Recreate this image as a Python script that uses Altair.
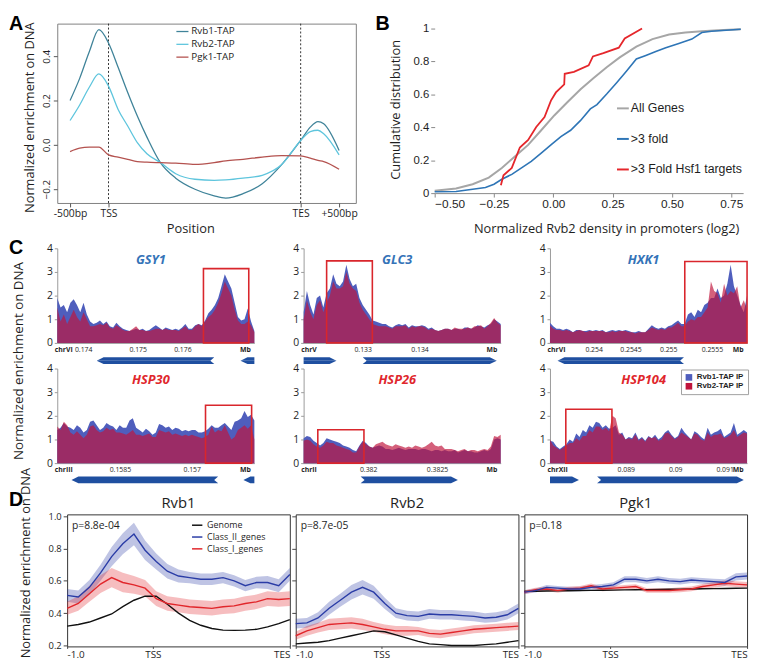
import altair as alt
import pandas as pd

FONT = "Open Sans"
ARIAL = "Liberation Sans"
TXT = "#1e1e1e"

# ================= Panel A : metagene profiles =================
A_POS = [0, 0.25, 0.5, 0.75, 1.0, 1.25, 1.5, 1.75, 2.0, 2.35, 2.75, 3.25, 3.75, 4.05, 4.5, 5.0, 5.5, 6.0, 6.25, 6.45, 6.6, 7.0]
A_RVB1 = [0.20, 0.30, 0.42, 0.52, 0.46, 0.35, 0.236, 0.13, 0.035, -0.08, -0.15, -0.20, -0.23, -0.24, -0.22, -0.175, -0.09, 0.02, 0.08, 0.105, 0.095, -0.025]
A_RVB2 = [0.11, 0.18, 0.26, 0.32, 0.265, 0.16, 0.085, 0.01, -0.04, -0.08, -0.13, -0.155, -0.16, -0.158, -0.15, -0.137, -0.09, 0.02, 0.06, 0.066, 0.05, -0.045]
A_PGK1 = [-0.03, -0.015, -0.01, -0.01, -0.045, -0.055, -0.065, -0.075, -0.078, -0.08, -0.082, -0.088, -0.08, -0.072, -0.065, -0.055, -0.048, -0.05, -0.06, -0.07, -0.075, -0.11]
A_SERIES = ["Rvb1-TAP", "Rvb2-TAP", "Pgk1-TAP"]
A_COLORS = ["#3f8399", "#5ec5dd", "#b4524f"]
A_TICKS = [0, 1, 6, 7]
A_TICK_LABELS = ["-500bp", "TSS", "TES", "+500bp"]
A_YTICKS = [-0.2, 0.0, 0.2, 0.4]

# ================= Panel B : cumulative distributions =================
B_SERIES = ["All Genes", ">3 fold", ">3 Fold Hsf1 targets"]
B_COLORS = ["#a6a6a6", "#2e75b6", "#e5262b"]
B_ALL_X = [-0.5, -0.41, -0.34, -0.272, -0.217, -0.162, -0.106, -0.051, 0.004, 0.059, 0.115, 0.17, 0.225, 0.28, 0.35, 0.418, 0.488, 0.557, 0.626, 0.695, 0.79]
B_ALL_Y = [0.014, 0.028, 0.054, 0.094, 0.153, 0.223, 0.293, 0.382, 0.472, 0.552, 0.631, 0.70, 0.765, 0.825, 0.89, 0.936, 0.964, 0.976, 0.984, 0.99, 0.996]
B_FOLD_X = [-0.5, -0.41, -0.34, -0.286, -0.25, -0.217, -0.175, -0.134, -0.093, -0.051, -0.01, 0.032, 0.073, 0.115, 0.156, 0.184, 0.225, 0.267, 0.308, 0.35, 0.39, 0.432, 0.474, 0.529, 0.584, 0.626, 0.667, 0.79]
B_FOLD_Y = [0.008, 0.01, 0.024, 0.034, 0.054, 0.084, 0.114, 0.153, 0.193, 0.243, 0.293, 0.343, 0.382, 0.442, 0.512, 0.538, 0.602, 0.671, 0.741, 0.815, 0.837, 0.86, 0.884, 0.91, 0.936, 0.976, 0.984, 0.996]
B_HSF_X = [-0.221, -0.21, -0.175, -0.141, -0.106, -0.072, -0.037, -0.01, 0.011, 0.046, 0.048, 0.087, 0.149, 0.167, 0.211, 0.276, 0.301, 0.374]
B_HSF_Y = [0.048, 0.108, 0.153, 0.277, 0.323, 0.402, 0.462, 0.562, 0.612, 0.661, 0.725, 0.737, 0.777, 0.831, 0.851, 0.884, 0.94, 1.0]
B_XTICKS = [-0.5, -0.25, 0.0, 0.25, 0.5, 0.75]
B_YTICKS = [0, 0.2, 0.4, 0.6, 0.8, 1.0]

# ================= Panel C : genome browser tracks =================
C_SERIES = ["Rvb1-TAP IP", "Rvb2-TAP IP"]
C_COLORS = ["#4f5ebd", "#c0143c"]
C_GENES = ["GSY1", "GLC3", "HXK1", "HSP30", "HSP26", "HSP104"]
C_GENE_COLORS = ["#3473b8", "#3473b8", "#3473b8", "#e0262c", "#e0262c", "#e0262c"]
C_CHR = ["chrVI", "chrV", "chrVI", "chrIII", "chrII", "chrXII"]
C_RANGE = [(0.1732, 0.17761), (0.13196, 0.13543), (0.25345, 0.25595),
           (0.156064, 0.157436), (0.381531, 0.382962), (0.0874667, 0.0914533)]
C_TICKS = [[0.17378, 0.175, 0.176], [0.133, 0.134], [0.254004, 0.254471, 0.25495, 0.255504],
           [0.1565, 0.157], [0.382, 0.3825], [0.089, 0.09, 0.091]]
C_TICK_LABELS = [["0.174", "0.175", "0.176"], ["0.133", "0.134"], ["0.254", "0.2545", "0.255", "0.2555"],
                 ["0.1585", "0.157"], ["0.382", "0.3825"], ["0.089", "0.09", "0.091"]]
C_BOX = [(0.176471, 0.177485, 3.14), (0.132365, 0.13317, 3.47), (0.25516, 0.25595, 3.44),
         (0.157096, 0.157417, 2.45), (0.381634, 0.381969, 1.41), (0.087787, 0.08872, 2.28)]
# gene arrows: (left, right, direction, has tip, has notch)
C_ARROWS = [
    [(0.174082, 0.176713, "left", True, True), (0.177301, 0.17761, "left", True, False)],
    [(0.13196, 0.132538, "right", True, False), (0.133001, 0.13536, "right", True, True)],
    [(0.253546, 0.25515, "left", True, True)],
    [(0.156163, 0.157184, "left", True, True), (0.15736, 0.157436, "left", True, False)],
    [(0.381945, 0.382651, "right", True, True)],
    [(0.0874667, 0.088053, "right", True, False), (0.08842, 0.091387, "right", True, True)],
]
C_ARROW_MID = [-0.75, -0.75, -0.75, -0.71, -0.71, -0.71]

C_RVB1 = [
    [1.9, 1.5, 1.6, 1.3, 1.7, 1.85, 1.6, 1.3, 1.7, 1.2, 0.9, 0.8, 0.85, 0.95, 0.8, 0.9, 0.7, 0.65, 0.85, 0.7,
     0.6, 0.55, 0.5, 0.55, 0.6, 0.55, 0.6, 0.5, 0.55, 0.65, 0.75, 0.65, 0.55, 0.65, 0.6, 0.55, 0.6, 0.55, 0.65, 0.8,
     0.6, 0.6, 0.75, 0.8, 0.75, 0.95, 1.25, 1.4, 1.6, 1.9, 2.4, 2.9, 2.6, 2.3, 1.7, 1.1, 0.95, 1.0, 1.45, 0.9, 0.5],
    [1.3, 2.2, 1.6, 1.2, 1.9, 2.0, 1.5, 2.1, 2.3, 2.9, 2.5, 2.4, 2.6, 3.3, 2.7, 2.4, 2.5, 1.9, 1.6, 1.4,
     1.2, 0.95, 0.9, 0.85, 0.8, 0.8, 0.7, 0.65, 0.75, 0.8, 0.75, 0.8, 0.65, 0.75, 0.7, 0.7, 0.75, 0.7, 0.6, 0.65,
     0.55, 0.5, 0.55, 0.6, 0.6, 0.55, 0.6, 0.6, 0.55, 0.65, 0.65, 0.6, 0.65, 0.75, 0.7, 0.65, 0.75, 0.8, 1.0, 0.9, 0.8],
    [0.85, 0.7, 0.6, 0.6, 0.55, 0.6, 0.55, 0.45, 0.55, 0.55, 0.5, 0.5, 0.55, 0.5, 0.55, 0.5, 0.55, 0.45, 0.5, 0.55,
     0.5, 0.55, 0.5, 0.55, 0.5, 0.45, 0.45, 0.5, 0.45, 0.45, 0.6, 0.75, 0.65, 0.6, 0.65, 0.6, 0.7, 0.75, 0.85, 0.95,
     0.8, 0.8, 1.2, 1.3, 1.1, 1.4, 1.3, 1.6, 1.7, 1.9, 1.9, 2.3, 1.9, 2.0, 2.5, 3.3, 2.4, 2.0, 1.6, 1.3, 2.0],
    [1.4, 1.5, 1.7, 1.55, 1.5, 1.4, 1.6, 1.5, 1.3, 1.4, 1.75, 1.8, 1.6, 1.4, 1.5, 1.7, 1.6, 1.55, 1.4, 1.6,
     1.5, 1.5, 1.8, 1.9, 1.5, 1.4, 1.3, 1.45, 1.35, 1.2, 1.3, 1.65, 1.6, 1.5, 1.55, 1.4, 1.5, 1.45, 1.35, 1.4,
     1.35, 1.4, 1.4, 1.3, 1.3, 1.35, 1.45, 1.6, 1.5, 1.5, 1.6, 1.7, 1.55, 1.4, 1.75, 1.8, 1.9, 2.2, 1.95, 2.05, 1.8],
    [1.05, 1.15, 1.1, 0.95, 0.85, 0.75, 0.85, 1.05, 1.0, 0.95, 0.9, 0.85, 0.75, 0.7, 0.65, 0.55, 0.5, 0.75, 0.95, 0.85,
     0.7, 0.65, 0.7, 0.75, 0.7, 0.6, 0.6, 0.55, 0.6, 0.65, 0.6, 0.55, 0.6, 0.6, 0.6, 0.55, 0.6, 0.6, 0.55, 0.5,
     0.55, 0.55, 0.5, 0.55, 0.5, 0.5, 0.55, 0.45, 0.5, 0.55, 0.5, 0.5, 0.45, 0.45, 0.5, 0.55, 0.5, 0.6, 1.0, 1.05, 1.0],
    [0.95, 0.9, 0.7, 0.6, 0.7, 0.8, 1.0, 0.9, 1.25, 1.1, 1.4, 1.3, 1.6, 1.5, 1.75, 1.7, 1.5, 1.6, 1.45, 1.5,
     1.6, 1.2, 1.3, 1.0, 1.1, 1.05, 1.3, 1.0, 1.1, 0.95, 1.15, 1.05, 1.2, 1.0, 1.1, 1.3, 1.4, 1.2, 1.05, 1.15,
     1.5, 1.3, 1.15, 1.0, 1.35, 1.25, 1.1, 1.0, 1.5, 1.2, 1.3, 1.35, 1.45, 1.1, 1.2, 1.3, 1.7, 1.2, 1.3, 1.4, 1.3],
]
C_RVB2 = [
    [1.5, 0.9, 1.2, 0.8, 1.1, 1.4, 1.1, 0.9, 1.3, 1.0, 0.7, 0.7, 0.75, 0.8, 0.75, 0.85, 0.65, 0.6, 0.75, 0.65,
     0.55, 0.5, 0.5, 0.6, 0.7, 0.55, 0.55, 0.5, 0.5, 0.55, 0.6, 0.6, 0.55, 0.6, 0.55, 0.55, 0.55, 0.5, 0.6, 0.7,
     0.55, 0.55, 0.7, 0.8, 0.7, 0.9, 1.1, 1.2, 1.4, 1.7, 2.1, 2.6, 2.3, 2.0, 1.4, 0.95, 0.8, 0.8, 0.9, 0.75, 0.45],
    [1.0, 1.8, 1.3, 1.0, 1.6, 1.8, 1.3, 1.7, 2.0, 2.6, 2.3, 2.3, 2.4, 3.0, 2.5, 2.3, 2.2, 1.7, 1.4, 1.2,
     1.0, 0.8, 0.75, 0.7, 0.7, 0.7, 0.65, 0.6, 0.7, 0.7, 0.7, 0.75, 0.6, 0.7, 0.65, 0.7, 0.7, 0.65, 0.55, 0.6,
     0.55, 0.5, 0.55, 0.6, 0.6, 0.55, 0.65, 0.6, 0.6, 0.6, 0.65, 0.6, 0.7, 0.7, 0.75, 0.6, 0.7, 0.85, 1.05, 0.85, 0.75],
    [0.75, 0.6, 0.55, 0.55, 0.5, 0.55, 0.5, 0.45, 0.5, 0.55, 0.5, 0.45, 0.5, 0.5, 0.5, 0.5, 0.5, 0.45, 0.45, 0.5,
     0.45, 0.5, 0.5, 0.5, 0.45, 0.45, 0.4, 0.45, 0.45, 0.45, 0.55, 0.65, 0.6, 0.55, 0.6, 0.55, 0.65, 0.65, 0.75, 0.85,
     0.7, 0.7, 0.9, 1.0, 0.95, 1.1, 1.1, 1.3, 1.5, 2.6, 2.2, 2.1, 1.7, 2.5, 2.0, 2.2, 2.1, 2.4, 1.5, 1.8, 1.4],
    [1.55, 1.4, 1.75, 1.6, 1.3, 1.2, 1.35, 1.2, 1.05, 1.2, 1.55, 1.6, 1.4, 1.3, 1.35, 1.5, 1.4, 1.45, 1.3, 1.3,
     1.25, 1.2, 1.3, 1.4, 1.2, 1.2, 1.15, 1.2, 1.25, 1.1, 1.1, 1.4, 1.35, 1.3, 1.35, 1.2, 1.25, 1.2, 1.15, 1.2,
     1.15, 1.2, 1.15, 1.1, 1.05, 1.1, 1.2, 1.55, 1.3, 1.4, 1.35, 1.6, 1.3, 1.0, 1.1, 1.4, 1.5, 1.6, 1.45, 1.6, 1.0],
    [0.95, 1.0, 0.95, 0.8, 0.7, 0.65, 0.75, 0.9, 0.85, 0.85, 0.75, 0.7, 0.65, 0.6, 0.55, 0.45, 0.45, 0.7, 0.9, 0.8,
     0.7, 0.65, 0.8, 0.85, 0.9, 0.8, 0.75, 0.7, 0.8, 0.75, 0.7, 0.65, 0.7, 0.65, 0.75, 0.7, 0.65, 0.7, 0.8, 0.9,
     0.75, 0.7, 0.75, 0.6, 0.6, 0.6, 0.55, 0.5, 0.55, 0.6, 0.5, 0.55, 0.55, 0.5, 0.55, 0.6, 0.55, 0.7, 1.15, 1.1, 1.2],
    [1.0, 0.75, 0.65, 0.55, 0.65, 0.75, 0.85, 0.85, 1.05, 0.95, 1.15, 1.15, 1.4, 1.3, 1.55, 1.55, 1.4, 1.5, 1.35, 2.0,
     1.9, 1.3, 1.2, 1.0, 1.05, 1.0, 1.2, 0.95, 1.05, 0.9, 1.1, 1.05, 1.1, 0.95, 1.0, 1.25, 1.3, 1.15, 1.0, 1.1,
     1.3, 1.2, 1.1, 1.0, 1.25, 1.2, 1.0, 0.95, 1.3, 1.1, 1.2, 1.2, 1.25, 1.05, 1.1, 1.2, 1.4, 1.1, 1.2, 1.3, 1.25],
]

# ================= Panel D : metagene profiles with confidence bands =================
D_SERIES = ["Genome", "Class_II_genes", "Class_I_genes"]
D_COLORS = ["#111111", "#2a3ca6", "#e1262b"]
D_NAMES = ["Rvb1", "Rvb2", "Pgk1"]
D_PVALS = ["p=8.8e-04", "p=8.7e-05", "p=0.18"]
D_POS = [0, 0.05, 0.1, 0.15, 0.2, 0.25, 0.3, 0.35, 0.4, 0.45, 0.5, 0.55, 0.6, 0.65, 0.7, 0.75, 0.8, 0.85, 0.9, 0.95, 1.0]
D_TICKS = [0, 0.385, 1]
D_TICK_LABELS = ["-1.0", "TSS", "TES"]
D_YTICKS = [0.2, 0.4, 0.6, 0.8, 1.0]
D_BLUE = [
    [0.51, 0.50, 0.56, 0.65, 0.75, 0.83, 0.89, 0.79, 0.72, 0.66, 0.63, 0.62, 0.61, 0.61, 0.62, 0.60, 0.57, 0.59, 0.59, 0.57, 0.64],
    [0.335, 0.34, 0.37, 0.43, 0.48, 0.53, 0.56, 0.53, 0.46, 0.40, 0.385, 0.38, 0.395, 0.39, 0.39, 0.385, 0.38, 0.37, 0.375, 0.39, 0.43],
    [0.53, 0.54, 0.56, 0.555, 0.55, 0.55, 0.56, 0.565, 0.575, 0.61, 0.61, 0.60, 0.61, 0.60, 0.595, 0.605, 0.60, 0.595, 0.59, 0.625, 0.63],
]
D_BLUE_HW = [
    [0.04, 0.04, 0.045, 0.05, 0.06, 0.065, 0.07, 0.06, 0.05, 0.045, 0.04, 0.035, 0.035, 0.035, 0.035, 0.035, 0.035, 0.035, 0.04, 0.04, 0.04],
    [0.03, 0.03, 0.035, 0.04, 0.04, 0.045, 0.045, 0.04, 0.035, 0.03, 0.03, 0.03, 0.03, 0.03, 0.03, 0.03, 0.03, 0.03, 0.03, 0.03, 0.03],
    [0.012, 0.012, 0.014, 0.014, 0.014, 0.014, 0.015, 0.015, 0.016, 0.018, 0.018, 0.018, 0.018, 0.018, 0.018, 0.018, 0.018, 0.018, 0.02, 0.022, 0.022],
]
D_RED = [
    [0.43, 0.46, 0.52, 0.58, 0.62, 0.59, 0.575, 0.555, 0.49, 0.46, 0.45, 0.44, 0.435, 0.43, 0.44, 0.445, 0.46, 0.47, 0.49, 0.485, 0.49],
    [0.26, 0.29, 0.31, 0.33, 0.335, 0.34, 0.33, 0.315, 0.30, 0.29, 0.29, 0.29, 0.275, 0.27, 0.28, 0.29, 0.30, 0.305, 0.31, 0.315, 0.32],
    [0.53, 0.545, 0.55, 0.54, 0.55, 0.555, 0.57, 0.55, 0.555, 0.56, 0.565, 0.54, 0.54, 0.54, 0.545, 0.55, 0.565, 0.575, 0.585, 0.58, 0.575],
]
D_RED_HW = [
    [0.04, 0.045, 0.05, 0.055, 0.06, 0.06, 0.055, 0.05, 0.045, 0.045, 0.045, 0.045, 0.045, 0.045, 0.045, 0.045, 0.045, 0.045, 0.045, 0.045, 0.045],
    [0.025, 0.03, 0.03, 0.035, 0.035, 0.035, 0.035, 0.03, 0.03, 0.03, 0.03, 0.025, 0.025, 0.025, 0.025, 0.025, 0.025, 0.025, 0.025, 0.025, 0.025],
    [0.012, 0.012, 0.013, 0.013, 0.013, 0.013, 0.014, 0.014, 0.014, 0.014, 0.014, 0.014, 0.014, 0.014, 0.015, 0.015, 0.016, 0.017, 0.018, 0.018, 0.018],
]
D_BLACK = [
    [0.32, 0.33, 0.345, 0.37, 0.395, 0.44, 0.48, 0.505, 0.505, 0.455, 0.40, 0.355, 0.325, 0.305, 0.295, 0.293, 0.295, 0.30, 0.315, 0.335, 0.36],
    [0.21, 0.215, 0.22, 0.23, 0.245, 0.26, 0.275, 0.29, 0.285, 0.265, 0.245, 0.225, 0.21, 0.205, 0.20, 0.20, 0.20, 0.205, 0.21, 0.22, 0.23],
    [0.535, 0.536, 0.537, 0.538, 0.539, 0.54, 0.541, 0.542, 0.543, 0.544, 0.545, 0.546, 0.547, 0.548, 0.549, 0.55, 0.551, 0.552, 0.553, 0.554, 0.555],
]


# ================= helpers =================
def lab_expr(vals, labs, eps):
    expr = "''"
    for v, l in zip(reversed(vals), reversed(labs)):
        expr = f"abs(datum.value - ({v})) < {eps} ? '{l}' : {expr}"
    return expr


def spacer(w, h):
    return alt.Chart(pd.DataFrame({"s": [0]})).mark_point(size=0, opacity=0).encode(
        x=alt.value(0), y=alt.value(0)).properties(width=w, height=h)


def letter(ch, dx, dy):
    return alt.Chart(pd.DataFrame({"t": [ch]})).mark_text(
        font=ARIAL, fontSize=20, fontWeight="bold", align="left", baseline="top", color="#000000"
    ).encode(text="t:N", x=alt.value(dx), y=alt.value(dy))


def indep(c):
    return c.resolve_scale(color="independent").resolve_legend(color="independent")


# ================= Panel A =================
a_df = pd.DataFrame({"pos": A_POS * 3, "val": A_RVB1 + A_RVB2 + A_PGK1,
                     "series": [s for s in A_SERIES for _ in A_POS]})
a_xscale = alt.Scale(domain=[-0.333, 7.436], nice=False, zero=False)
a_yscale = alt.Scale(domain=[-0.262, 0.547], nice=False, zero=False)
a_xaxis = alt.Axis(values=A_TICKS, labelExpr=lab_expr(A_TICKS, A_TICK_LABELS, 0.05), title="Position",
                   domain=False, tickSize=4, tickColor="#555555", labelFont=FONT, labelFontSize=10.5,
                   labelColor=TXT, labelPadding=2, titleFont=FONT, titleFontSize=13, titleFontWeight="normal",
                   titleColor=TXT, titleX=135, titleY=26, titleBaseline="middle", grid=False)
a_yaxis = alt.Axis(values=A_YTICKS, format=".1f", labelAngle=270, title="Normalized enrichment on DNA",
                   domain=False, tickSize=4, tickColor="#555555", labelFont=FONT, labelFontSize=10,
                   labelColor=TXT, labelPadding=2, titleFont=FONT, titleFontSize=13, titleFontWeight="normal",
                   titleColor=TXT, titleX=-28, titleY=95, titleAngle=270, titleBaseline="middle", grid=False)
a_lines = alt.Chart(a_df).mark_line(strokeWidth=1.3, interpolate="monotone").encode(
    x=alt.X("pos:Q", scale=a_xscale, axis=a_xaxis),
    y=alt.Y("val:Q", scale=a_yscale, axis=a_yaxis),
    color=alt.Color("series:N", scale=alt.Scale(domain=A_SERIES, range=A_COLORS),
                    legend=alt.Legend(orient="none", legendX=120, legendY=1, title=None, symbolType="stroke",
                                      symbolSize=150, symbolStrokeWidth=1.3, labelFont=FONT, labelFontSize=10,
                                      labelColor=TXT, rowPadding=1, labelOffset=2, padding=0)),
)
a_rules = alt.Chart(pd.DataFrame({"pos": [A_TICKS[1], A_TICKS[2]]})).mark_rule(
    color="#333333", strokeDash=[2, 2], strokeWidth=1).encode(x=alt.X("pos:Q", scale=a_xscale, axis=a_xaxis))
panelA = alt.layer(a_rules, a_lines, letter("A", -49, -10)).properties(
    width=303, height=182, view=alt.ViewBackground(stroke="#808080", strokeWidth=1))

# ================= Panel B =================
b_df = pd.DataFrame({
    "pos": B_ALL_X + B_FOLD_X + B_HSF_X,
    "val": B_ALL_Y + B_FOLD_Y + B_HSF_Y,
    "series": [B_SERIES[0]] * len(B_ALL_X) + [B_SERIES[1]] * len(B_FOLD_X) + [B_SERIES[2]] * len(B_HSF_X),
})
b_xscale = alt.Scale(domain=[-0.5, 0.8], nice=False, zero=False)
b_yscale = alt.Scale(domain=[0, 1.03], nice=False, zero=False)
b_xaxis = alt.Axis(values=B_XTICKS, format=".2f", title="Normalized Rvb2 density in promoters (log2)",
                   domainColor="#888888", tickColor="#888888", tickSize=4, labelFont=ARIAL, labelFontSize=12,
                   labelColor=TXT, labelPadding=2, titleFont=FONT, titleFontSize=13, titleFontWeight="normal",
                   titleColor=TXT, titleX=174, titleY=36, titleBaseline="middle", grid=False)
b_yaxis = alt.Axis(values=B_YTICKS, format="~g", domain=False, tickColor="#888888", tickSize=4,
                   labelFont=ARIAL, labelFontSize=11.5, labelColor=TXT, labelPadding=2,
                   title="Cumulative distribution", titleFont=FONT, titleFontSize=13, titleFontWeight="normal",
                   titleColor=TXT, titleX=-40, titleY=87, titleAngle=270, titleBaseline="middle", grid=False)
b_color = alt.Color("series:N", scale=alt.Scale(domain=B_SERIES, range=B_COLORS),
                    legend=alt.Legend(orient="none", legendX=184, legendY=79, title=None, symbolType="stroke",
                                      symbolSize=144, symbolStrokeWidth=2, labelFont=ARIAL, labelFontSize=12.5,
                                      labelColor=TXT, rowPadding=17, labelOffset=1, padding=0))
b_layers = []
for s, w in zip(B_SERIES, [2.0, 1.6, 1.8]):
    b_layers.append(alt.Chart(b_df).transform_filter(alt.datum.series == s).mark_line(strokeWidth=w).encode(
        x=alt.X("pos:Q", scale=b_xscale, axis=b_xaxis),
        y=alt.Y("val:Q", scale=b_yscale, axis=b_yaxis),
        color=b_color))
panelB = alt.layer(*b_layers, letter("B", -60, -10)).properties(width=313, height=172)


# ================= Panel C =================
def arrow_rows(aid, left, right, direction, tip, notch, mid, half, head, nlen):
    rows = []
    for part, outer in (("u", mid + half), ("l", mid - half)):
        pts = []
        if direction == "left":
            pts += [(left, mid, mid), (left + head, outer, mid)] if tip else [(left, outer, mid)]
            pts += [(right - nlen, outer, mid), (right, outer, outer)] if notch else [(right, outer, mid)]
        else:
            pts += [(left, outer, outer), (left + nlen, outer, mid)] if notch else [(left, outer, mid)]
            pts += [(right - head, outer, mid), (right, mid, mid)] if tip else [(right, outer, mid)]
        for x, y, y2 in pts:
            rows.append({"pos": x, "val": y, "val2": y2, "part": f"{aid}{part}"})
    return rows


def c_panel(i):
    lo, hi = C_RANGE[i]
    rng = hi - lo
    blue, red = C_RVB1[i], C_RVB2[i]
    n = len(blue)
    xs = [lo + k * rng / (n - 1) for k in range(n)]
    prof = pd.DataFrame({"pos": xs + xs, "val": blue + red, "series": [C_SERIES[0]] * n + [C_SERIES[1]] * n})
    vals = [lo] + C_TICKS[i] + [hi]
    labs = [C_CHR[i]] + C_TICK_LABELS[i] + ["Mb"]
    eps = rng * 0.004
    first_t = f"datum.value < {lo + eps}"
    last_t = f"datum.value > {hi - eps}"
    xscale = alt.Scale(domain=[lo, hi], nice=False, zero=False)
    yscale = alt.Scale(domain=[0, 4], nice=False, zero=False)
    xaxis = alt.Axis(values=vals, labelExpr=lab_expr(vals, labs, eps), labelFlush=True, labelOverlap=False,
                     ticks=False, grid=False, title=None, domainColor="#9a9a9a", labelFont=FONT,
                     labelFontSize=7, labelColor=TXT, labelPadding=3,
                     labelFontWeight={"condition": {"test": f"{first_t} || {last_t}", "value": "bold"},
                                      "value": "normal"},
                     labelOffset={"condition": [{"test": first_t, "value": -3}, {"test": last_t, "value": -4}],
                                  "value": 0})
    if i == 0:
        yaxis = alt.Axis(values=[0, 1, 2, 3, 4], format="d", grid=False, domainColor="#9a9a9a",
                         tickColor="#9a9a9a", tickSize=3, labelFont=FONT, labelFontSize=10.5, labelColor=TXT,
                         labelPadding=2, title="Normalized enrichment on DNA", titleFont=FONT, titleFontSize=13.5,
                         titleFontWeight="normal", titleColor=TXT, titleX=-39, titleY=114, titleAngle=270,
                         titleBaseline="middle")
    else:
        yaxis = alt.Axis(values=[0, 1, 2, 3, 4], format="d", grid=False, domainColor="#9a9a9a",
                         tickColor="#9a9a9a", tickSize=3, labelFont=FONT, labelFontSize=10.5, labelColor=TXT,
                         labelPadding=2, title=None)
    X = alt.X("pos:Q", scale=xscale, axis=xaxis)
    Y = alt.Y("val:Q", scale=yscale, axis=yaxis, stack=None)
    if i == 5:
        leg = alt.Legend(orient="none", legendX=133, legendY=1, title=None, symbolType="square", symbolSize=45,
                         symbolStrokeWidth=0, labelFont=ARIAL, labelFontSize=8, labelFontWeight="bold",
                         labelColor=TXT, strokeColor="#a0a0a0", fillColor="white", padding=4, rowPadding=1,
                         labelOffset=4)
    else:
        leg = None
    col = alt.Color("series:N", scale=alt.Scale(domain=C_SERIES, range=C_COLORS), legend=leg)
    blue_l = alt.Chart(prof).transform_filter(alt.datum.series == C_SERIES[0]).mark_area(
        interpolate="linear", opacity=1).encode(x=X, y=Y, color=col)
    red_l = alt.Chart(prof).transform_filter(alt.datum.series == C_SERIES[1]).mark_area(
        interpolate="linear", opacity=0.68).encode(x=X, y=Y, color=col)
    b = C_BOX[i]
    box = alt.Chart(pd.DataFrame({"pos": [b[0]], "pos2": [b[1]], "val": [0], "val2": [b[2]]})).mark_rect(
        fillOpacity=0, stroke="#d9262c", strokeWidth=1.6).encode(x=X, x2="pos2:Q", y=Y, y2="val2:Q")
    rows = []
    for k, (l, r, d, tip, notch) in enumerate(C_ARROWS[i]):
        rows += arrow_rows(f"a{k}", l, r, d, tip, notch, C_ARROW_MID[i], 0.14, rng * 7 / 200, rng * 4 / 200)
    arrows = alt.Chart(pd.DataFrame(rows)).mark_area(color="#1f4fa0", interpolate="linear").encode(
        x=X, y=Y, y2="val2:Q", detail="part:N")
    gene = alt.Chart(pd.DataFrame({"pos": [lo + 0.475 * rng], "val": [3.5], "t": [C_GENES[i]]})).mark_text(
        font=FONT, fontSize=13, fontStyle="italic", fontWeight="bold", color=C_GENE_COLORS[i]
    ).encode(x=X, y=Y, text="t:N")
    layers = [blue_l, red_l, box, arrows, gene]
    if i == 0:
        layers.append(letter("C", -49, -10))
    return alt.layer(*layers).properties(width=200, height=96)


# ================= Panel D =================
def d_panel(k):
    n = len(D_POS)
    lines = pd.DataFrame({
        "pos": D_POS * 3,
        "val": D_BLACK[k] + D_BLUE[k] + D_RED[k],
        "series": [D_SERIES[0]] * n + [D_SERIES[1]] * n + [D_SERIES[2]] * n,
    })
    bands_blue = pd.DataFrame({"pos": D_POS, "val": [v - h for v, h in zip(D_BLUE[k], D_BLUE_HW[k])],
                               "val2": [v + h for v, h in zip(D_BLUE[k], D_BLUE_HW[k])]})
    bands_red = pd.DataFrame({"pos": D_POS, "val": [v - h for v, h in zip(D_RED[k], D_RED_HW[k])],
                              "val2": [v + h for v, h in zip(D_RED[k], D_RED_HW[k])]})
    xscale = alt.Scale(domain=[0, 1], nice=False, zero=False)
    yscale = alt.Scale(domain=[0.194, 1.012], nice=False, zero=False)
    xaxis = alt.Axis(values=D_TICKS, labelExpr=lab_expr(D_TICKS, D_TICK_LABELS, 0.01), labelFlush=True,
                     labelOverlap=False, domain=False, tickSize=2, tickColor="#444444", labelFont=FONT,
                     labelFontSize=10, labelColor=TXT, labelPadding=1, title=None, grid=False)
    if k == 0:
        yaxis = alt.Axis(values=D_YTICKS, format=".1f", domain=False, tickSize=4, tickColor="#444444",
                         labelFont=FONT, labelFontSize=9.5, labelColor=TXT, labelPadding=2,
                         title="Normalized enrichment on DNA", titleFont=FONT, titleFontSize=13,
                         titleFontWeight="normal", titleColor=TXT, titleX=-42, titleY=49, titleAngle=270,
                         titleBaseline="middle", grid=False)
        leg = alt.Legend(orient="none", legendX=126, legendY=5, title=None, symbolType="stroke", symbolSize=110,
                         symbolStrokeWidth=1.5, labelFont=FONT, labelFontSize=9, labelColor=TXT,
                         rowPadding=1, labelOffset=4, padding=0)
    else:
        yaxis = alt.Axis(values=D_YTICKS, labels=False, domain=False, tickSize=4, tickColor="#444444",
                         title=None, grid=False)
        leg = None
    X = alt.X("pos:Q", scale=xscale, axis=xaxis)
    Y = alt.Y("val:Q", scale=yscale, axis=yaxis, stack=None)
    col = alt.Color("series:N", scale=alt.Scale(domain=D_SERIES, range=D_COLORS), legend=leg)
    bb = alt.Chart(bands_blue).mark_area(color=D_COLORS[1], opacity=0.3).encode(x=X, y=Y, y2="val2:Q")
    br = alt.Chart(bands_red).mark_area(color=D_COLORS[2], opacity=0.3).encode(x=X, y=Y, y2="val2:Q")
    line_layers = []
    for s in [D_SERIES[0], D_SERIES[2], D_SERIES[1]]:
        line_layers.append(alt.Chart(lines).transform_filter(alt.datum.series == s).mark_line(
            strokeWidth=1.4).encode(x=X, y=Y, color=col))
    title = alt.Chart(pd.DataFrame({"pos": [0.5], "val": [1.079], "t": [D_NAMES[k]]})).mark_text(
        font=FONT, fontSize=15, color=TXT, baseline="middle").encode(x=X, y=Y, text="t:N")
    pval = alt.Chart(pd.DataFrame({"pos": [0.022], "val": [0.939], "t": [D_PVALS[k]]})).mark_text(
        font=FONT, fontSize=10.5, color=TXT, align="left", baseline="middle").encode(x=X, y=Y, text="t:N")
    layers = [bb, br] + line_layers + [title, pval]
    if k == 0:
        layers.append(letter("D", -59, -24))
    return alt.layer(*layers).properties(width=226, height=134,
                                         view=alt.ViewBackground(stroke="#333333", strokeWidth=1))


# ================= Layout =================
row_ab = indep(alt.hconcat(panelA, panelB, spacing=80, bounds="flush"))
grid_c = indep(alt.concat(*[c_panel(i) for i in range(6)], columns=3,
                          spacing={"row": 26, "column": 50}, bounds="flush"))
row_d = indep(alt.hconcat(spacer(4, 1), d_panel(0), d_panel(1), d_panel(2), spacing=6, bounds="flush"))

chart = indep(alt.vconcat(row_ab, spacer(1, 228), grid_c, spacer(1, 270), row_d,
                          spacing=0, bounds="flush", padding=0, background="white")).configure_view(stroke=None)

chart.save("out.html", embed_options={"renderer": "svg", "actions": False})
